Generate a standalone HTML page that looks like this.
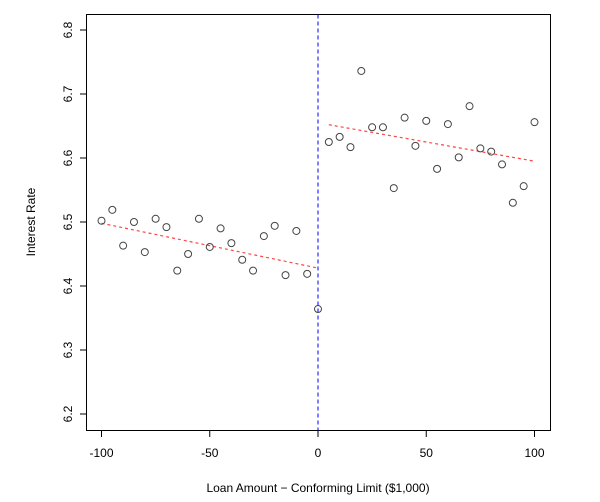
<!DOCTYPE html>
<html><head><meta charset="utf-8"><style>
body{margin:0;background:#fff;}
svg{display:block;font-family:"Liberation Sans",Arial,sans-serif;}
</style></head><body>
<svg id="chart" width="600" height="502">
<rect x="86.5" y="14.5" width="464" height="416" fill="none" stroke="#000" stroke-width="1"/>
<g id="axes"></g>
<g id="marks"></g>
<text x="318" y="492" font-size="12" text-anchor="middle" fill="#000">Loan Amount − Conforming Limit ($1,000)</text>
<text transform="translate(35,222) rotate(-90)" font-size="12" text-anchor="middle" fill="#000">Interest Rate</text>
</svg>
<script>
const xs=[-100,-95,-90,-85,-80,-75,-70,-65,-60,-55,-50,-45,-40,-35,-30,-25,-20,-15,-10,-5,0,5,10,15,20,25,30,35,40,45,50,55,60,65,70,75,80,85,90,95,100];
const ys=[6.502,6.519,6.463,6.500,6.453,6.505,6.492,6.424,6.450,6.505,6.461,6.490,6.467,6.441,6.424,6.478,6.494,6.417,6.486,6.419,6.364,6.625,6.633,6.617,6.736,6.648,6.648,6.553,6.663,6.619,6.658,6.583,6.653,6.601,6.681,6.615,6.610,6.590,6.530,6.556,6.656];
const leftFit=[[-100,6.498],[0,6.428]];
const rightFit=[[5,6.652],[100,6.595]];
const xTicks=[-100,-50,0,50,100];
const yTicks=[6.2,6.3,6.4,6.5,6.6,6.7,6.8];
const NS="http://www.w3.org/2000/svg";
function sx(v){return 318+v*2.165;}
function sy(v){return 222-(v-6.5)*640;}
function mk(t,a,p){const e=document.createElementNS(NS,t);for(const k in a)e.setAttribute(k,a[k]);p.appendChild(e);return e;}
const axes=document.getElementById('axes'),marks=document.getElementById('marks');
mk('line',{x1:sx(-100),x2:sx(100),y1:430.5,y2:430.5,stroke:'#000'},axes);
mk('line',{x1:86.5,x2:86.5,y1:sy(6.2),y2:sy(6.8),stroke:'#000'},axes);
xTicks.forEach(t=>{
 const l=mk('line',{x1:sx(t),x2:sx(t),y1:430.5,y2:437,stroke:'#000'},axes);
 
 
 const tx=mk('text',{x:sx(t),y:457,'font-size':12,'text-anchor':'middle'},axes);
 tx.textContent=t;
 
 
});
yTicks.forEach(t=>{
 const l=mk('line',{x1:80,x2:86.5,y1:sy(t),y2:sy(t),stroke:'#000'},axes);
 
 
 const tx=mk('text',{transform:`translate(72,${sy(t)}) rotate(-90)`,'font-size':12,'text-anchor':'middle'},axes);
 tx.textContent=t.toFixed(1);
 
 
});
const cut=mk('line',{x1:sx(0),x2:sx(0),y1:14.5,y2:430.5,stroke:'#00f','stroke-dasharray':'4,3'},marks);


[leftFit,rightFit].forEach((f,i)=>{
 const l=mk('line',{x1:sx(f[0][0]),y1:sy(f[0][1]),x2:sx(f[1][0]),y2:sy(f[1][1]),stroke:'#f44','stroke-dasharray':'3,3','stroke-width':1.2},marks);
 
 
});
xs.forEach((x,i)=>{
 const c=mk('circle',{cx:sx(x),cy:sy(ys[i]),r:3.5,fill:'none',stroke:'#444','stroke-width':1},marks);
 
 
});
</script>
</body></html>
